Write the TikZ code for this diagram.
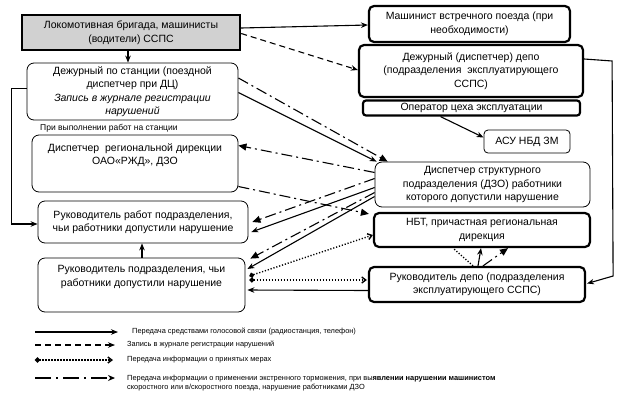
\documentclass[tikz,border=0pt]{standalone}
\usepackage{fontspec}
\setmainfont{Liberation Sans}
\usetikzlibrary{arrows.meta,calc}
\begin{document}
\begin{tikzpicture}[x=1pt,y=-1pt,
  every node/.style={font=\fontsize{10.5}{13.5}\selectfont, align=center, inner sep=0pt},
  thickbox/.style={draw, line width=2.2pt, rounded corners=5pt, fill=white},
  thinbox/.style={draw, line width=0.8pt, rounded corners=7pt, fill=white},
  conn/.style={line width=1.1pt},
  solidar/.style={conn, -{Stealth[length=7pt,width=5.5pt]}},
  dashar/.style={conn, dash pattern=on 6pt off 4pt, -{Stealth[length=7pt,width=5.5pt]}},
  dotline/.style={line width=1.4pt, dash pattern=on 1.2pt off 1.8pt},
  dotar/.style={dotline, {Circle[length=5pt]}-{Straight Barb[length=4pt,width=6pt]}},
  dashdot/.style={conn, dash pattern=on 11pt off 4pt on 2pt off 4pt},
  dashdotar/.style={dashdot, -{Triangle[length=8pt,width=7pt]}},
  legtxt/.style={font=\fontsize{7.4}{9}\selectfont, anchor=west, align=left}
]
\useasboundingbox (0,0) rectangle (623,405);

% boxes
\node[draw, line width=2.4pt, fill=black!18, minimum width=218, minimum height=35] (A) at (131,32.5) {Локомотивная бригада, машинисты\\(водители) ССПС};
\node[thinbox, minimum width=211, minimum height=57] (B) at (132.5,91.5) {Дежурный по станции (поездной\\диспетчер при ДЦ)\\\textit{Запись в журнале регистрации}\\\textit{нарушений}};
\node[anchor=west, font=\fontsize{8.5}{10}\selectfont] (note) at (40,128) {При выполнении работ на станции};
\node[thinbox, minimum width=206, minimum height=57] (C) at (135,163.5) {};
\node (Ct) at (135,155) {Диспетчер\ \ региональной дирекции\\ОАО«РЖД», ДЗО};
\node[thinbox, minimum width=210, minimum height=42] (D) at (143,222) {Руководитель работ подразделения,\\чьи работники допустили нарушение};
\node[thinbox, minimum width=207, minimum height=54] (E) at (141.5,285) {};
\node (Et) at (141.5,277) {Руководитель подразделения, чьи\\работники допустили нарушение};

\node[thickbox, minimum width=201, minimum height=36] (F) at (469.5,24) {Машинист встречного поезда (при\\необходимости)};
\node[thickbox, minimum width=224, minimum height=52] (G) at (471,71) {Дежурный (диспетчер) депо\\(подразделения\ \ эксплуатирующего\\ССПС)};
\node[thickbox, rounded corners=3pt, minimum width=217, minimum height=15] (H) at (471.5,108) {Оператор цеха эксплуатации};
\node[thinbox, rounded corners=4pt, minimum width=86, minimum height=23] (I) at (527,141.5) {АСУ НБД ЗМ};
\node[thinbox, minimum width=215, minimum height=45] (J) at (482.5,184.5) {Диспетчер структурного\\подразделения (ДЗО) работники\\которого допустили нарушение};
\node[thickbox, minimum width=216, minimum height=34] (K) at (482,230) {НБТ, причастная региональная\\дирекция};
\node[thickbox, minimum width=216, minimum height=35] (L) at (477,284.5) {Руководитель депо (подразделения\\эксплуатирующего ССПС)};

% connectors
\draw[solidar] ([xshift=-3pt]A.south) -- ([xshift=-4.5pt]B.north);
\draw[solidar] ([yshift=4.5pt]A.east) -- ([yshift=-1pt]F.west);
\draw[dashar] ([yshift=-1pt]A.east) -- ([yshift=1pt]G.west);
\draw[dashdotar] ([yshift=13.5pt]B.east) -- ([xshift=13pt]J.north west);
\draw[solidar] ([yshift=-1pt]B.east) -- ([xshift=2pt]J.north west);
\draw[dashdotar] ([yshift=12pt]J.west) -- ([yshift=18pt]C.east);
\draw[dashdotar] ([yshift=-23pt]C.east) -- ([xshift=-4pt,yshift=-2pt]K.north west);
\draw[dashdotar] ([yshift=6pt]J.west) -- ([xshift=4pt]D.east);
\draw[solidar] ([yshift=-3pt]J.west) -- ([xshift=3pt,yshift=-10pt]D.east);
\draw[dashdotar] ([yshift=-8pt]J.west) -- ([xshift=5pt,yshift=-1pt]E.north east);
\draw[solidar] ([yshift=-12pt]J.west) -- ([xshift=2pt,yshift=16pt]E.east);
\draw[dotar] ([xshift=4pt,yshift=9pt]E.east) -- ([yshift=-5pt]K.west);
\draw[dotar] ([xshift=4pt,yshift=5pt]E.east) -- ([xshift=-1pt,yshift=4.5pt]L.west);
\draw[solidar] ([yshift=-6pt]L.west) -- ([xshift=2pt,yshift=-5pt]E.east);
\draw[solidar] ([xshift=0.5pt]E.north) -- ([xshift=-1pt]D.south);
\draw[solidar] ([yshift=3pt]B.west) -- ++(-15,0) |- ([yshift=-2pt]D.west);
\draw[solidar] ([yshift=12pt]G.east) -- ++(28,2) -- ++(1,215) -- ([xshift=1pt,yshift=1pt]L.east);
\draw[solidar] ([xshift=-31pt]H.south) -- ([yshift=4pt]I.west);
\draw[solidar] ([xshift=1pt]L.north) -- ([xshift=-1pt]K.south);
\draw[dotline] ([xshift=-4pt]L.north) -- ([xshift=-29pt]K.south);
\draw[dashdotar] ([xshift=6pt]L.north) -- ([xshift=26pt]K.south);

% legend
\coordinate (s1) at (35,332); \coordinate (e1) at (118,332);
\draw[solidar] (s1) -- (e1);
\node[legtxt] (t1) at (132,332) {Передача средствами голосовой связи (радиостанция, телефон)};
\coordinate (s2) at (35,345); \coordinate (e2) at (115,345);
\draw[dashar] (s2) -- (e2);
\node[legtxt] (t2) at (127,345) {Запись в журнале регистрации нарушений};
\coordinate (s3) at (35,360); \coordinate (e3) at (113,360);
\draw[dotar] (s3) -- (e3);
\node[legtxt] (t3) at (127,360) {Передача информации о принятых мерах};
\coordinate (s4) at (35,378); \coordinate (e4) at (115,378);
\draw[conn, dash pattern=on 16pt off 5pt on 2pt off 5pt, -{Stealth[length=7pt,width=6pt]}] (s4) -- (e4);
\node[legtxt] (t4) at (127,383.5) {Передача информации о применении экстренного торможения, при вы\textbf{явлении нарушении машинистом}\\скоростного или в/скоростного поезда, нарушение работниками ДЗО};
\end{tikzpicture}
\end{document}
